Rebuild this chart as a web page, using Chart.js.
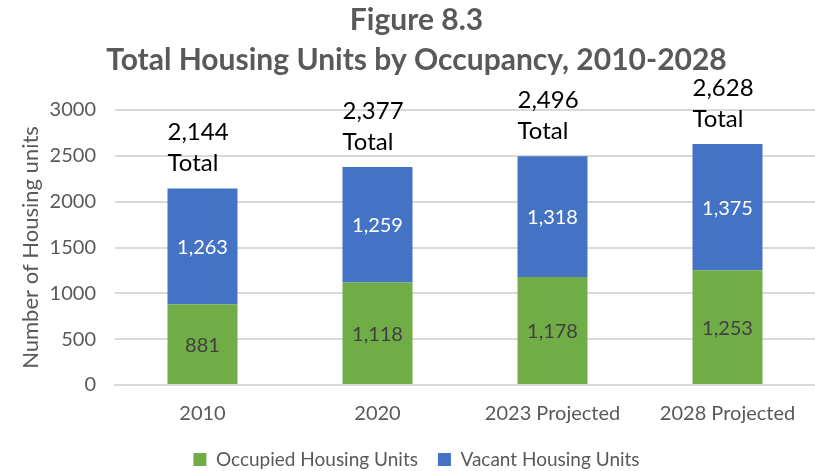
<!DOCTYPE html>
<html>
<head>
<meta charset="utf-8">
<script src="https://cdn.jsdelivr.net/npm/chart.js@4"></script>
<style>
  html, body { margin: 0; padding: 0; background: #fff; }
  #wrap { width: 815px; height: 471px; }
</style>
</head>
<body>
<div id="wrap"><canvas id="housingChart"></canvas></div>
<script>
const categories = ["2010", "2020", "2023 Projected", "2028 Projected"];
const occupied = [881, 1118, 1178, 1253];
const vacant = [1263, 1259, 1318, 1375];
const totals = [2144, 2377, 2496, 2628];
const yTicks = [0, 500, 1000, 1500, 2000, 2500, 3000];

const FONT = "Lato, 'Open Sans', sans-serif";
const GREY = "#595959";
const fmt = v => v.toLocaleString("en-US");

// Etiquetas dentro das barras + total acima
const labelsPlugin = {
  id: "labelsPlugin",
  afterDatasetsDraw(chart) {
    const ctx = chart.ctx;
    ctx.save();
    ctx.font = "20px " + FONT;
    ctx.textAlign = "center";
    ctx.textBaseline = "middle";
    chart.data.datasets.forEach((ds, di) => {
      chart.getDatasetMeta(di).data.forEach((bar, i) => {
        const mid = (bar.y + bar.base) / 2;
        ctx.fillStyle = di === 0 ? "#404040" : "#ffffff";
        ctx.fillText(fmt(ds.data[i]), bar.x, mid + 1);
      });
    });
    // totais
    const top = chart.getDatasetMeta(1).data;
    ctx.font = "24px " + FONT;
    ctx.fillStyle = "#000000";
    ctx.textAlign = "left";
    ctx.textBaseline = "alphabetic";
    top.forEach((bar, i) => {
      const x = bar.x - bar.width / 2;
      ctx.fillText("Total", x, bar.y - 17);
      ctx.fillText(fmt(totals[i]), x, bar.y - 48);
    });
    ctx.restore();
  }
};

new Chart(document.getElementById("housingChart").getContext("2d"), {
  type: "bar",
  data: {
    labels: categories,
    datasets: [
      { label: "Occupied Housing Units", data: occupied, backgroundColor: "#70ad47" },
      { label: "Vacant Housing Units", data: vacant, backgroundColor: "#4472c4" }
    ]
  },
  options: {
    responsive: true,
    maintainAspectRatio: false,
    animation: false,
    layout: { padding: { left: 18, right: 0, top: 0, bottom: -8 } },
    datasets: { bar: { barPercentage: 0.4, categoryPercentage: 1 } },
    plugins: {
      title: {
        display: true,
        text: ["Figure 8.3", "Total Housing Units by Occupancy, 2010-2028"],
        color: GREY,
        font: { family: FONT, size: 30, weight: "bold", lineHeight: 1.35 },
        padding: { top: 0, bottom: 29 }
      },
      legend: {
        position: "bottom",
        labels: {
          color: GREY,
          font: { family: FONT, size: 19 },
          boxWidth: 13,
          boxHeight: 13,
          padding: 20
        }
      },
      tooltip: { enabled: false }
    },
    scales: {
      x: {
        stacked: true,
        grid: { display: false },
        border: { color: "#d9d9d9", width: 2 },
        ticks: { color: GREY, font: { family: FONT, size: 20 }, padding: 9, maxRotation: 0 },
        afterFit: axis => { axis.height = 45; }
      },
      y: {
        stacked: true,
        min: 0,
        max: 3000,
        afterBuildTicks: axis => { axis.ticks = yTicks.map(v => ({ value: v })); },
        grid: { color: "#d9d9d9", lineWidth: 2, drawTicks: false },
        border: { display: false },
        ticks: { color: GREY, font: { family: FONT, size: 20 }, padding: 19, callback: v => String(v) },
        title: {
          display: true,
          text: "Number of Housing units",
          color: GREY,
          font: { family: FONT, size: 22 },
          padding: { top: 0, bottom: 0 }
        },
        afterFit: axis => { axis.width = 97; }
      }
    }
  },
  plugins: [labelsPlugin]
});
</script>
</body>
</html>
